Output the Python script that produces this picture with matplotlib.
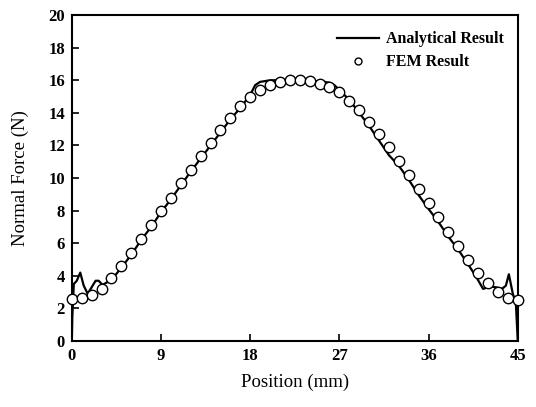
import matplotlib
matplotlib.use("Agg")
import matplotlib.pyplot as plt

plt.rcParams['font.family'] = ['Liberation Serif', 'DejaVu Serif']

# Analytical result (solid line)
ana_x = [0, 0.05, 0.2, 0.5, 0.85, 1.2, 1.6, 2.0, 2.4, 2.7, 3.1, 4, 5, 6, 7, 8, 9, 10,
         11, 12, 13, 14, 15, 16, 17, 17.5, 18, 18.5, 19, 20, 21, 22, 23, 24, 25, 26,
         26.5, 27, 28, 29, 30, 31, 32, 33, 34, 35, 36, 37, 38, 39, 40, 40.8, 41.5,
         42.2, 42.8, 43.4, 43.8, 44.1, 44.5, 44.8, 45]
ana_y = [0, 1.5, 3.5, 3.7, 4.2, 3.4, 2.9, 3.3, 3.7, 3.7, 3.45, 3.75, 4.5, 5.3, 6.2, 7.0,
         7.9, 8.7, 9.55, 10.4, 11.2, 12.0, 12.8, 13.6, 14.3, 14.7, 15.1, 15.7, 15.9,
         16.0, 16.0, 16.0, 16.0, 15.95, 15.95, 15.85, 15.7, 15.4, 14.8, 14.0, 13.2,
         12.3, 11.4, 10.75, 9.9, 8.95, 8.1, 7.3, 6.4, 5.6, 4.7, 3.94, 3.2, 3.35, 3.3,
         3.2, 3.4, 4.1, 2.9, 2.4, 0]

# FEM result (open circles)
fem_x = list(range(0, 46))
fem_y = [2.6, 2.65, 2.82, 3.2, 3.88, 4.62, 5.42, 6.28, 7.1, 7.98, 8.8, 9.67, 10.5,
         11.35, 12.17, 12.94, 13.7, 14.4, 14.95, 15.4, 15.7, 15.9, 16.0, 16.0, 15.97,
         15.8, 15.6, 15.3, 14.75, 14.2, 13.45, 12.7, 11.9, 11.06, 10.2, 9.33, 8.45,
         7.63, 6.7, 5.85, 4.97, 4.19, 3.54, 3.0, 2.62, 2.5]

xticks = [0, 9, 18, 27, 36, 45]
yticks = list(range(0, 21, 2))

fig = plt.figure(figsize=(5.36, 4.07), dpi=100)
ax = fig.add_axes([0.134, 0.162, 0.832, 0.801])

ax.plot(ana_x, ana_y, color='black', lw=1.6, label='Analytical Result', zorder=2)
ax.plot(fem_x, fem_y, linestyle='none', marker='o', markersize=7.5,
        markerfacecolor='white', markeredgecolor='black', markeredgewidth=1.0,
        label='FEM Result', zorder=3, clip_on=False)

ax.set_xlim(0, 45)
ax.set_ylim(0, 20)
ax.set_xticks(xticks)
ax.set_yticks(yticks)
ax.tick_params(direction='in', length=5, width=1.2, top=False, right=False,
               labelsize=12, pad=5)
for lab in ax.get_xticklabels() + ax.get_yticklabels():
    lab.set_fontweight('bold')
for s in ax.spines.values():
    s.set_linewidth(1.5)

ax.set_xlabel('Position (mm)', fontsize=13.5, labelpad=7)
ax.set_ylabel('Normal Force (N)', fontsize=13.5, labelpad=14)

leg = ax.legend(loc='upper right', frameon=False, prop={'weight': 'bold', 'size': 11.5},
                handlelength=2.6, handletextpad=0.5, borderaxespad=0.3,
                labelspacing=0.45, bbox_to_anchor=(0.995, 0.985))
leg.legend_handles[1].set_markersize(5)

fig.savefig('out.png', dpi=100)
